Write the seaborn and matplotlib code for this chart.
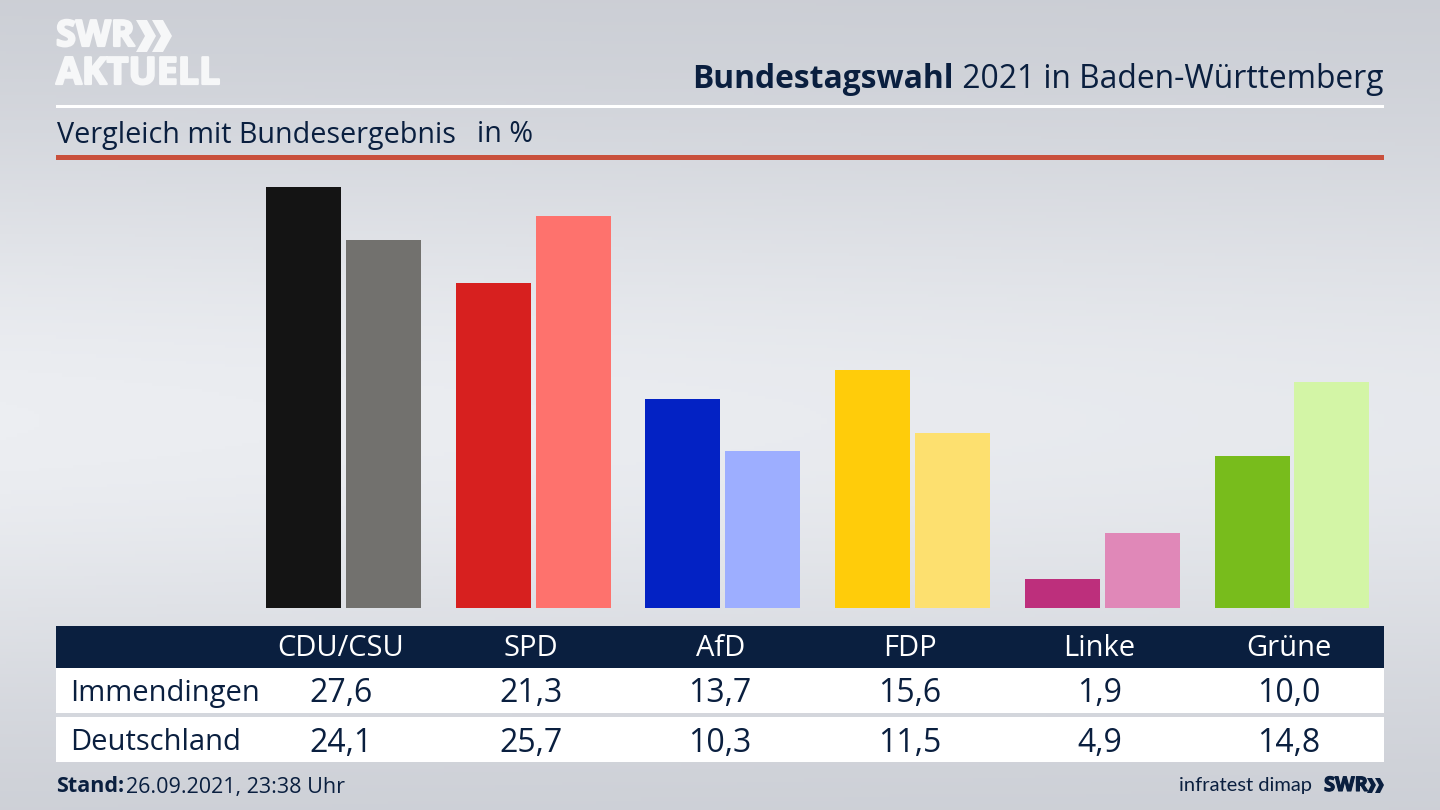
import numpy as np
import pandas as pd
import matplotlib
matplotlib.use('Agg')
import matplotlib.pyplot as plt
import matplotlib.patheffects as pe
from matplotlib.patches import Rectangle, Polygon
import seaborn as sns

# data
parteien = ['CDU/CSU', 'SPD', 'AfD', 'FDP', 'Linke', 'Grüne']
immendingen = [27.6, 21.3, 13.7, 15.6, 1.9, 10.0]
deutschland = [24.1, 25.7, 10.3, 11.5, 4.9, 14.8]
farben_ort = ['#141414', '#d7201f', '#0322c4', '#ffcc0a', '#bd2f7c', '#78bc1c']
farben_bund = ['#72716e', '#fe726d', '#9daeff', '#fde06f', '#e088b8', '#d3f5a6']

sns.set_theme(style='white')
plt.rcParams['font.family'] = ['Open Sans', 'DejaVu Sans']

DUNKEL = '#0a1f3f'
LOGO = '#f6f7f8'
W, H = 1440, 810

fig = plt.figure(figsize=(14.4, 8.1), dpi=100)

# hintergrund
bg = fig.add_axes([0, 0, 1, 1], zorder=0)
yy = np.linspace(0, 1, 256)
xx = np.linspace(0, 1, 256)
Y, X = np.meshgrid(yy, xx, indexing='ij')
verlauf = np.exp(-((Y - 0.52) / 0.36) ** 2) * (1 - 0.15 * X)
bg.imshow(verlauf, extent=[0, W, H, 0], aspect='auto',
          cmap=matplotlib.colors.LinearSegmentedColormap.from_list('bg', ['#c8cbd2', '#eceef2']),
          vmin=0, vmax=1)
bg.set_xlim(0, W)
bg.set_ylim(H, 0)
bg.axis('off')

# balken
df = pd.DataFrame({
    'partei': parteien * 2,
    'gebiet': ['Immendingen'] * 6 + ['Deutschland'] * 6,
    'wert': immendingen + deutschland,
})
ax = fig.add_axes([248.65 / W, (H - 608) / H, 1138.2 / W, 448.35 / H], zorder=1)
ax.patch.set_alpha(0)
sns.barplot(data=df, x='partei', y='wert', hue='gebiet', order=parteien,
            hue_order=['Immendingen', 'Deutschland'], width=0.8434, gap=0.0625,
            legend=False, ax=ax, saturation=1)
balken = [b for b in ax.patches if b.get_height() > 0]
for b, c in zip(balken, farben_ort + farben_bund):
    b.set_facecolor(c)
    b.set_edgecolor('none')
ax.set_xlim(-0.5, 5.5)
ax.set_ylim(0, 29.4)
ax.axis('off')

# rahmen, text in pixelkoordinaten
ov = fig.add_axes([0, 0, 1, 1], zorder=2)
ov.set_xlim(0, W)
ov.set_ylim(H, 0)
ov.axis('off')

# logo
dick = [pe.withStroke(linewidth=1.6, foreground=LOGO)]
ov.text(56, 37, 'SWR', fontsize=26, fontweight='bold', color=LOGO, va='center', ha='left', path_effects=dick)
ov.text(56, 74, 'AKTUELL', fontsize=27, fontweight='bold', color=LOGO, va='center', ha='left', path_effects=dick)
for dx in (0, 16):
    ov.add_patch(Polygon([(136 + dx, 20), (147 + dx, 20), (156 + dx, 36), (147 + dx, 52), (136 + dx, 52), (145 + dx, 36)],
                         closed=True, fc=LOGO, ec='none'))

# kopf
kopf = ov.text(1383, 80, ' 2021 in Baden-Württemberg', fontsize=22.9, color=DUNKEL, ha='right', va='center')
fig.canvas.draw()
bb = kopf.get_window_extent().transformed(ov.transData.inverted())
ov.text(bb.x0, 80, 'Bundestagswahl', fontsize=22.9, fontweight='bold', color=DUNKEL, ha='right', va='center')
ov.add_patch(Rectangle((56, 105), 1328, 2.5, fc='white', ec='none'))
ov.text(57, 135, 'Vergleich mit Bundesergebnis', fontsize=20.7, color=DUNKEL, va='center')
ov.text(477, 135, 'in %', fontsize=20.7, color=DUNKEL, va='center')
ov.add_patch(Rectangle((56, 155), 1328, 5, fc='#c9503c', ec='none'))

# tabelle
ov.add_patch(Rectangle((56, 626), 1328, 42, fc=DUNKEL, ec='none'))
ov.add_patch(Rectangle((56, 668), 1328, 45, fc='white', ec='none'))
ov.add_patch(Rectangle((56, 717), 1328, 45, fc='white', ec='none'))
ov.text(70, 693, 'Immendingen', fontsize=21, color=DUNKEL, va='center')
ov.text(70, 742, 'Deutschland', fontsize=21, color=DUNKEL, va='center')
fmt = lambda v: f'{v:.1f}'.replace('.', ',')
for i, p in enumerate(parteien):
    x = 341 + i * 189.6
    ov.text(x, 649, p, fontsize=21, color='white', ha='center', va='center')
    ov.text(x, 694, fmt(immendingen[i]), fontsize=23, color=DUNKEL, ha='center', va='center')
    ov.text(x, 743, fmt(deutschland[i]), fontsize=23, color=DUNKEL, ha='center', va='center')

# fuss
ov.text(56, 787, 'Stand:', fontsize=15.5, fontweight='bold', color=DUNKEL, va='center')
ov.text(126, 787, '26.09.2021, 23:38 Uhr', fontsize=15.5, color=DUNKEL, va='center')
ov.text(1312, 786, 'infratest dimap', fontsize=14.5, family='Lato', color=DUNKEL, ha='right', va='center')
ov.text(1324, 786, 'SWR', fontsize=14.5, fontweight='bold', color=DUNKEL, ha='left', va='center',
        path_effects=[pe.withStroke(linewidth=0.8, foreground=DUNKEL)])
for dx in (0, 8):
    ov.add_patch(Polygon([(1367 + dx, 778), (1372 + dx, 778), (1376 + dx, 785), (1372 + dx, 793), (1367 + dx, 793), (1371 + dx, 785)],
                         closed=True, fc=DUNKEL, ec='none'))

fig.savefig('out.png', dpi=100)
